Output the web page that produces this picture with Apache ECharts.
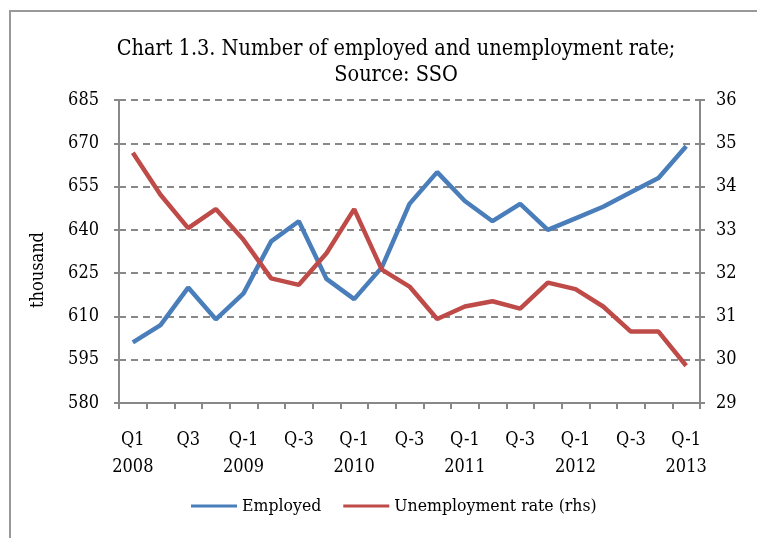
<!DOCTYPE html>
<html>
<head>
<meta charset="utf-8">
<script src="https://cdn.jsdelivr.net/npm/echarts@6/dist/echarts.min.js"></script>
<style>
  html, body { margin: 0; padding: 0; background: #fff; }
  #chart { width: 757px; height: 538px; }
</style>
</head>
<body>
<div id="chart"></div>
<script>
var quarters = [
  "Q1\n2008", "Q2", "Q3", "Q4",
  "Q-1\n2009", "Q-2", "Q-3", "Q-4",
  "Q-1\n2010", "Q-2", "Q-3", "Q-4",
  "Q-1\n2011", "Q-2", "Q-3", "Q-4",
  "Q-1\n2012", "Q-2", "Q-3", "Q-4",
  "Q-1\n2013"
];
var employed = [601, 607, 620, 609, 618, 636, 643, 623, 616, 627, 649, 660, 650, 643, 649, 640, 644, 648, 653, 658, 669];
var unemploymentRate = [34.78, 33.81, 33.04, 33.48, 32.77, 31.88, 31.73, 32.46, 33.48, 32.08, 31.69, 30.94, 31.23, 31.35, 31.18, 31.78, 31.63, 31.23, 30.65, 30.65, 29.86];

var font = "DejaVu Serif Condensed";
var chart = echarts.init(document.getElementById("chart"));

var option = {
  animation: false,
  backgroundColor: "#fff",
  textStyle: { fontFamily: font, color: "#000" },
  graphic: [
    {
      type: "rect",
      shape: { x: 10, y: 11, width: 800, height: 600 },
      style: { fill: null, stroke: "#999", lineWidth: 2 }
    },
    {
      // y axis title, placed a bit below the grid middle as in the source
      type: "text",
      x: 38,
      y: 270,
      rotation: Math.PI / 2,
      style: {
        text: "thousand",
        fontFamily: font,
        fontSize: 18,
        fill: "#000",
        align: "center",
        verticalAlign: "middle"
      }
    }
  ],
  title: {
    text: "Chart 1.3. Number of employed and unemployment rate;\nSource: SSO",
    left: 391,
    top: 31,
    textAlign: "center",
    textStyle: { fontFamily: font, fontSize: 21.5, fontWeight: "normal", lineHeight: 26, color: "#000" }
  },
  legend: {
    bottom: 18,
    left: 186,
    icon: "rect",
    itemWidth: 46,
    itemHeight: 3,
    itemGap: 22,
    textStyle: { fontFamily: font, fontSize: 17.5, color: "#000" },
    data: ["Employed", "Unemployment rate (rhs)"]
  },
  grid: { left: 119, right: 57, top: 100, bottom: 135 },
  xAxis: {
    type: "category",
    data: quarters,
    boundaryGap: true,
    axisLine: { lineStyle: { color: "#888", width: 2 } },
    axisTick: { show: true, interval: 0, length: 6, lineStyle: { color: "#888", width: 2 } },
    axisLabel: { interval: 1, margin: 24, fontFamily: font, fontSize: 18, lineHeight: 27, color: "#000" },
    splitLine: { show: false }
  },
  yAxis: [
    {
      type: "value",
      min: 580,
      max: 685,
      interval: 15,
      axisLine: { show: true, lineStyle: { color: "#888", width: 2 } },
      axisTick: { show: true, length: 5, lineStyle: { color: "#888", width: 2 } },
      axisLabel: { margin: 20, fontFamily: font, fontSize: 18, color: "#000" },
      splitLine: { show: true, lineStyle: { color: "#888", width: 2, type: [7, 5] } }
    },
    {
      type: "value",
      min: 29,
      max: 36,
      interval: 1,
      position: "right",
      axisLine: { show: true, lineStyle: { color: "#888", width: 2 } },
      axisTick: { show: true, length: 5, lineStyle: { color: "#888", width: 2 } },
      axisLabel: { margin: 16, fontFamily: font, fontSize: 18, color: "#000" },
      splitLine: { show: false }
    }
  ],
  series: [
    {
      name: "Employed",
      type: "line",
      data: employed,
      yAxisIndex: 0,
      symbol: "none",
      color: "#4a7ebb",
      lineStyle: { width: 4.5, color: "#4a7ebb" }
    },
    {
      name: "Unemployment rate (rhs)",
      type: "line",
      data: unemploymentRate,
      yAxisIndex: 1,
      symbol: "none",
      color: "#be4b48",
      lineStyle: { width: 4.5, color: "#be4b48" }
    }
  ]
};

chart.setOption(option);
</script>
</body>
</html>
